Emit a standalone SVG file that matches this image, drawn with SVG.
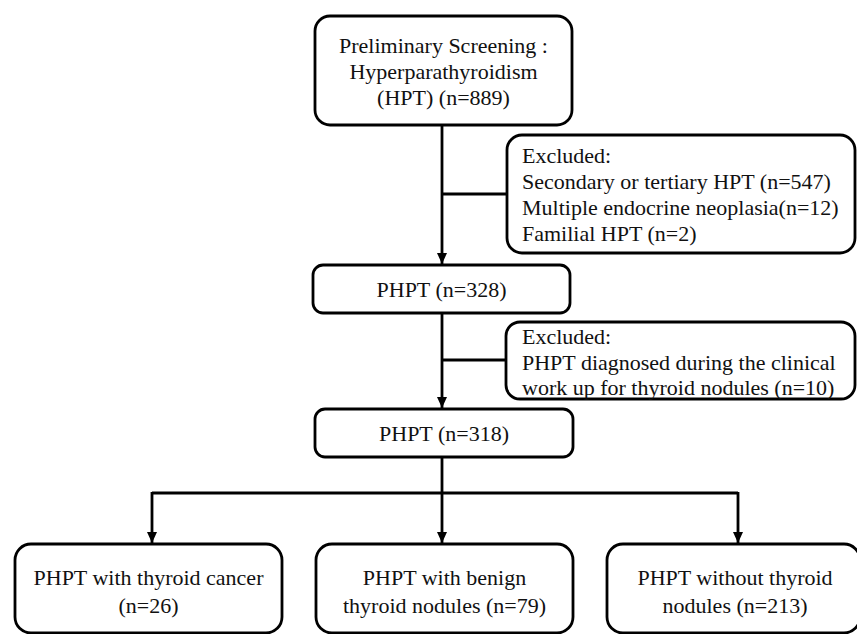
<svg xmlns="http://www.w3.org/2000/svg" width="857" height="634" viewBox="0 0 857 634">
<defs>
<style>
.box{fill:#fff;stroke:#000;stroke-width:2.8}
.t{font-family:'Liberation Serif','Tinos','Times New Roman','DejaVu Serif',serif;font-size:22px;fill:#111}
.c{text-anchor:middle}
.ln{fill:none;stroke:#000;stroke-width:2.8}
</style>
<marker id="ah" markerUnits="userSpaceOnUse" markerWidth="12" markerHeight="12" refX="11" refY="5" orient="auto" viewBox="0 0 12 10">
<path d="M0,0 L11,5 L0,10 z" fill="#000"/>
</marker>
</defs>
<rect width="857" height="634" fill="#fff"/>
<g id="connectors">
<line class="ln" x1="442" y1="125" x2="442" y2="264" marker-end="url(#ah)"/>
<line class="ln" x1="442" y1="194" x2="507" y2="194"/>
<line class="ln" x1="442" y1="313" x2="442" y2="408" marker-end="url(#ah)"/>
<line class="ln" x1="442" y1="360" x2="506" y2="360"/>
<line class="ln" x1="442" y1="457" x2="442" y2="493"/>
<polyline class="ln" points="152,493 738,493"/>
<line class="ln" x1="152" y1="492" x2="152" y2="543" marker-end="url(#ah)"/>
<line class="ln" x1="442" y1="493" x2="442" y2="543" marker-end="url(#ah)"/>
<line class="ln" x1="738" y1="492" x2="738" y2="543" marker-end="url(#ah)"/>
</g>
<g font-family="Liberation Serif, serif">
<g id="n1">
<rect class="box" x="315" y="16" width="257" height="109" rx="15"/>
<text class="t c" x="443.5" y="53">Preliminary Screening :</text>
<text class="t c" x="443.5" y="79">Hyperparathyroidism</text>
<text class="t c" x="443.5" y="105">(HPT) (n=889)</text>
</g>
<g id="ex1">
<rect class="box" x="507" y="135" width="348" height="118" rx="15"/>
<text class="t" x="522" y="163">Excluded:</text>
<text class="t" x="522" y="189">Secondary or tertiary HPT (n=547)</text>
<text class="t" x="522" y="215">Multiple endocrine neoplasia(n=12)</text>
<text class="t" x="522" y="241">Familial HPT (n=2)</text>
</g>
<g id="n2">
<rect class="box" x="313" y="265" width="257" height="48" rx="10"/>
<text class="t c" x="441.5" y="297">PHPT (n=328)</text>
</g>
<g id="ex2">
<rect class="box" x="506" y="322" width="349" height="77" rx="14"/>
<text class="t" x="522" y="344">Excluded:</text>
<text class="t" x="522" y="370">PHPT diagnosed during the clinical</text>
<text class="t" x="522" y="395">work up for thyroid nodules (n=10)</text>
</g>
<g id="n3">
<rect class="box" x="315" y="409" width="258" height="48" rx="10"/>
<text class="t c" x="444" y="441">PHPT (n=318)</text>
</g>
<g id="nA">
<rect class="box" x="15" y="544" width="267" height="89" rx="16"/>
<text class="t c" x="148.5" y="585">PHPT with thyroid cancer</text>
<text class="t c" x="148.5" y="613">(n=26)</text>
</g>
<g id="nB">
<rect class="box" x="316" y="544" width="257" height="89" rx="16"/>
<text class="t c" x="444.5" y="585">PHPT with benign</text>
<text class="t c" x="444.5" y="613">thyroid nodules (n=79)</text>
</g>
<g id="nC">
<rect class="box" x="607" y="544" width="253" height="89" rx="16"/>
<text class="t c" x="735" y="585">PHPT without thyroid</text>
<text class="t c" x="735" y="613">nodules (n=213)</text>
</g>
</g>
</svg>
